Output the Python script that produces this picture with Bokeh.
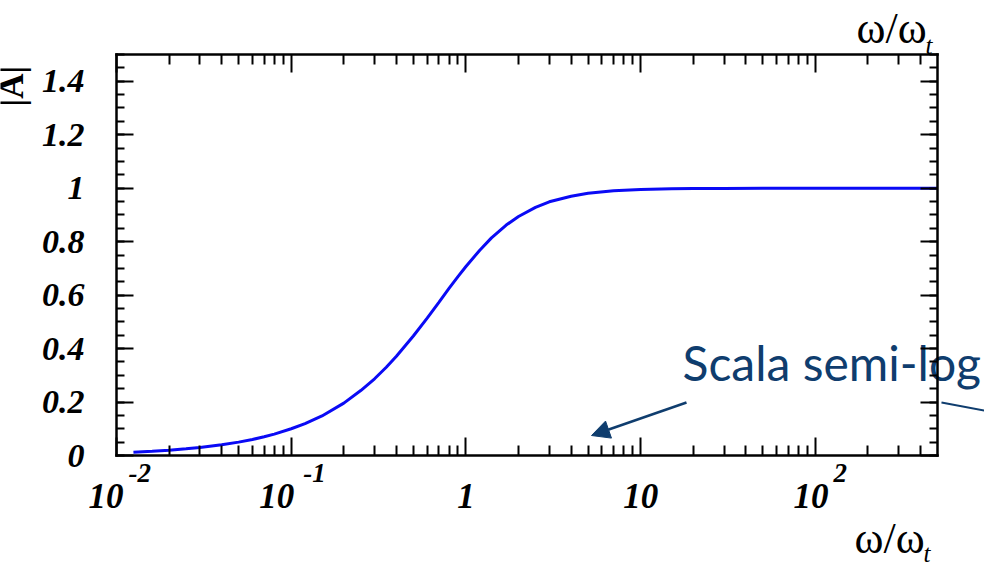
import math

from bokeh.plotting import figure
from bokeh.models import (Range1d, LogAxis, LinearAxis, FixedTicker, Label, Arrow,
                          NormalHead, CustomJSTickFormatter)
from bokeh.embed import file_html
from bokeh.resources import INLINE

# |A| of the first-order high-pass response against omega/omega_t
omega_ratio = [0.0125, 0.016, 0.02, 0.025, 0.03, 0.04, 0.05, 0.06, 0.07, 0.08,
               0.1, 0.12, 0.15, 0.2, 0.25, 0.3, 0.35, 0.4, 0.5, 0.6, 0.7, 0.8,
               0.9, 1.0, 1.2, 1.4, 1.7, 2.0, 2.5, 3.0, 4.0, 5.0, 7.0, 10, 15,
               20, 30, 50, 100, 200, 500]
gain = [0.0125, 0.016, 0.020, 0.025, 0.030, 0.040, 0.050, 0.060, 0.070, 0.080,
        0.100, 0.119, 0.148, 0.196, 0.243, 0.287, 0.330, 0.371, 0.447, 0.514,
        0.573, 0.625, 0.669, 0.707, 0.768, 0.814, 0.862, 0.894, 0.928, 0.949,
        0.970, 0.981, 0.990, 0.995, 0.998, 0.999, 0.999, 1.0, 1.0, 1.0, 1.0]

# axis ticks and their labels
y_ticks = [0, 0.2, 0.4, 0.6, 0.8, 1, 1.2, 1.4]
y_tick_labels = ["0", "0.2", "0.4", "0.6", "0.8", "1", "1.2", "1.4"]
x_ticks = [0.01, 0.1, 1, 10, 100]
x_tick_bases = ["10", "10", "1", "10", "10"]
x_tick_exponents = ["-2", "-1", "", "", "2"]

X_MIN, X_MAX = 0.01, 500
Y_MIN, Y_MAX = 0.0, 1.5

# where the axis box sits on the 984x568 canvas
LEFT, RIGHT, TOP, BOTTOM = 116, 937, 54, 455
W, H = 984, 568

NAVY = "#0f3d6e"
SERIF = "Liberation Serif"
SERIF_MID = 0.3375   # (ascent - descent) / 2, in em, for the serif face
LATO_MID = 0.387


def at_x(px):
    """Canvas pixel column -> data x on the log scale."""
    lo, hi = math.log10(X_MIN), math.log10(X_MAX)
    return 10 ** (lo + (px - LEFT) / (RIGHT - LEFT) * (hi - lo))


def at_y(py):
    """Canvas pixel row -> data y on the linear scale."""
    return Y_MIN + (BOTTOM - py) / (BOTTOM - TOP) * (Y_MAX - Y_MIN)


def on_baseline(py, size, mid=SERIF_MID):
    """Data y that puts a label's baseline on canvas row py."""
    return at_y(py - mid * size)


# the frame spans the whole canvas; the four axes are pinned around the data box
p = figure(width=W, height=H, x_axis_type="log",
           x_range=Range1d(at_x(0), at_x(W)), y_range=Range1d(at_y(H), at_y(0)),
           output_backend="svg", toolbar_location=None, min_border=0)
p.title.visible = False
p.outline_line_color = None
p.grid.visible = False
p.background_fill_color = "white"
p.border_fill_color = "white"

x_minor = [m * 10 ** e for e in range(-2, 3) for m in range(2, 10) if m * 10 ** e < X_MAX]
y_minor = [round(i * 0.05, 2) for i in range(31)]
x_ticker = FixedTicker(ticks=x_ticks, minor_ticks=x_minor)
y_ticker = FixedTicker(ticks=y_ticks, minor_ticks=y_minor)


def style_axis(ax, major, minor):
    ax.axis_line_width = 2.5
    ax.axis_line_color = "black"
    ax.axis_line_cap = "square"
    ax.major_tick_line_width = 2
    ax.minor_tick_line_width = 2
    ax.major_tick_in = major
    ax.major_tick_out = 0
    ax.minor_tick_in = minor
    ax.minor_tick_out = 0


def blank_axis(ax):
    ax.formatter = CustomJSTickFormatter(code="return ''")


# bottom and left axes
xa = p.xaxis[0]
xa.ticker = x_ticker
xa.fixed_location = Y_MIN
xa.bounds = (X_MIN, X_MAX)
blank_axis(xa)
style_axis(xa, 18, 10)

ya = p.yaxis[0]
ya.ticker = y_ticker
ya.fixed_location = X_MIN
ya.bounds = (Y_MIN, Y_MAX)
ya.major_label_overrides = {v: s for v, s in zip(y_ticks, y_tick_labels)}
ya.major_label_text_font = SERIF
ya.major_label_text_font_style = "bold italic"
ya.major_label_text_font_size = "34px"
ya.major_label_text_color = "black"
ya.major_label_standoff = 32
style_axis(ya, 17, 8)

# mirrored top and right axes
top_ax = LogAxis(ticker=x_ticker, fixed_location=Y_MAX, bounds=(X_MIN, X_MAX))
blank_axis(top_ax)
style_axis(top_ax, 18, 10)
p.add_layout(top_ax, "above")
right_ax = LinearAxis(ticker=y_ticker, fixed_location=X_MAX, bounds=(Y_MIN, Y_MAX))
blank_axis(right_ax)
style_axis(right_ax, 17, 8)
p.add_layout(right_ax, "right")

# response curve
p.line(omega_ratio, gain, line_color="#0a0af5", line_width=3)

# x tick labels: base with an optional superscript exponent
BASE_SIZE, EXP_SIZE = 35, 27
base_y = on_baseline(507, BASE_SIZE)
exp_y = on_baseline(482, EXP_SIZE)
base_shift = {"-2": 7, "-1": 3, "2": 13}
exp_shift = {"-2": 12, "-1": 12, "2": 18}
for tick, base, expo in zip(x_ticks, x_tick_bases, x_tick_exponents):
    if expo:
        p.add_layout(Label(x=tick, y=base_y, x_offset=base_shift[expo], text=base,
                           text_align="right", text_baseline="alphabetic",
                           text_font=SERIF, text_font_style="bold italic",
                           text_font_size=f"{BASE_SIZE}px", text_color="black"))
        p.add_layout(Label(x=tick, y=exp_y, x_offset=exp_shift[expo], text=expo,
                           text_align="left", text_baseline="alphabetic",
                           text_font=SERIF, text_font_style="bold italic",
                           text_font_size=f"{EXP_SIZE}px", text_color="black"))
    else:
        p.add_layout(Label(x=tick, y=base_y, text=base,
                           text_align="center", text_baseline="alphabetic",
                           text_font=SERIF, text_font_style="bold italic",
                           text_font_size=f"{BASE_SIZE}px", text_color="black"))

# y-axis title, rotated to read upwards from its lower end, at the top-left corner
p.add_layout(Label(x=at_x(11), y=at_y(106), text="|A|", angle=math.pi / 2,
                   text_align="left", text_baseline="alphabetic",
                   text_font=SERIF, text_font_style="bold",
                   text_font_size="35px", text_color="black"))

# omega/omega_t titles above and below the box
OMEGA_SIZE, SUB_SIZE = 44, 25
for px_left, base_row, sub_row in ((856, 43, 53), (854, 553, 561)):
    p.add_layout(Label(x=at_x(px_left), y=on_baseline(base_row, OMEGA_SIZE), text="ω/ω",
                       text_align="left", text_baseline="alphabetic",
                       text_font=SERIF, text_font_size=f"{OMEGA_SIZE}px",
                       text_color="black"))
    p.add_layout(Label(x=at_x(px_left + 69), y=on_baseline(sub_row, SUB_SIZE), text="t",
                       text_align="left", text_baseline="alphabetic",
                       text_font=SERIF, text_font_style="italic",
                       text_font_size=f"{SUB_SIZE}px", text_color="black"))

# "Scala semi-log" callout with its arrows
p.add_layout(Label(x=at_x(682), y=on_baseline(381, 48, LATO_MID), text="Scala semi-log",
                   text_align="left", text_baseline="alphabetic",
                   text_font="Lato", text_font_size="48px",
                   text_color=NAVY, level="glyph"))
p.add_layout(Arrow(end=NormalHead(size=18, fill_color=NAVY, line_color=NAVY, line_width=1),
                   x_start=at_x(686), y_start=at_y(402),
                   x_end=at_x(591), y_end=at_y(435),
                   line_color=NAVY, line_width=2.5))
p.add_layout(Arrow(end=None,
                   x_start=at_x(941), y_start=at_y(402),
                   x_end=at_x(984), y_end=at_y(410),
                   line_color=NAVY, line_width=2))

open("out.html", "w").write(file_html(p, INLINE))
